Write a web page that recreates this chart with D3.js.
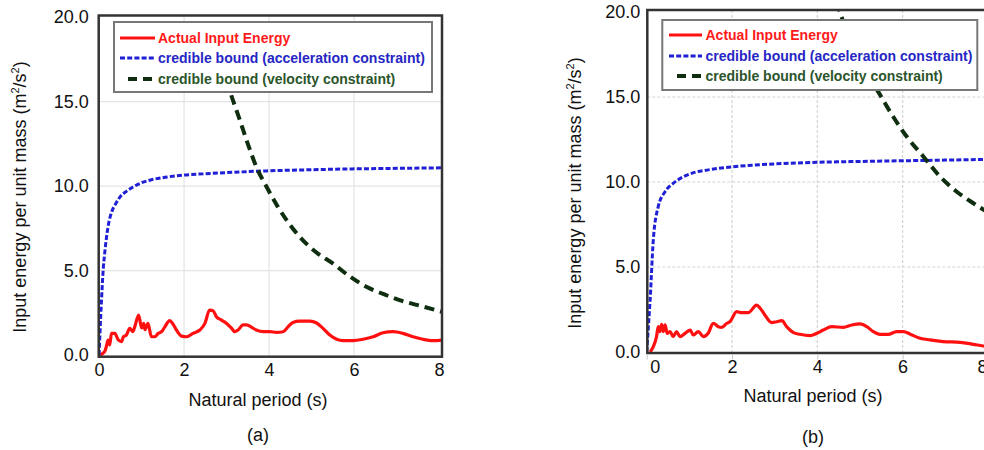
<!DOCTYPE html>
<html>
<head>
<meta charset="utf-8">
<script src="https://cdn.jsdelivr.net/npm/d3@7/dist/d3.min.js"></script>
<style>
  body { margin: 0; background: #fff; }
  svg { display: block; font-family: Arial, "Liberation Sans", sans-serif; }
</style>
</head>
<body>
<div id="chart"></div>
<script>
// shared labels and ticks
const xTicks = [0, 2, 4, 6, 8];
const yTicks = [0, 5, 10, 15, 20];
const legendLabels = ['Actual Input Energy', 'credible bound (acceleration constraint)', 'credible bound (velocity constraint)'];
const xTitle = 'Natural period (s)';
const panelLabels = ['(a)', '(b)'];

// panel (a)
const aActualT = [0.02, 0.13, 0.17, 0.21, 0.25, 0.29, 0.37, 0.45, 0.53, 0.57, 0.64, 0.72, 0.79, 0.84, 0.93, 1.0, 1.05, 1.08, 1.15, 1.23, 1.31, 1.39, 1.47, 1.55, 1.66, 1.73, 1.82, 1.94, 2.06, 2.21, 2.37, 2.49, 2.6, 2.68, 2.76, 2.88, 3.0, 3.12, 3.19, 3.27, 3.39, 3.47, 3.59, 3.7, 3.86, 4.02, 4.17, 4.33, 4.45, 4.56, 4.72, 4.96, 5.11, 5.27, 5.43, 5.59, 5.74, 5.98, 6.21, 6.45, 6.68, 6.92, 7.15, 7.39, 7.62, 7.86, 8.07];
const aActualE = [0, 0.2, 0.5, 0.89, 0.6, 1.28, 1.28, 0.89, 0.79, 1.08, 1.18, 1.58, 1.38, 1.68, 2.37, 1.6, 1.87, 1.5, 1.87, 1.08, 1.08, 1.28, 1.38, 1.68, 2.03, 1.87, 1.48, 1.12, 1.08, 1.28, 1.48, 1.87, 2.66, 2.62, 2.27, 2.07, 1.87, 1.58, 1.38, 1.48, 1.78, 1.78, 1.64, 1.48, 1.38, 1.38, 1.34, 1.38, 1.68, 1.93, 2.01, 2.01, 1.91, 1.58, 1.18, 0.93, 0.85, 0.85, 0.93, 1.08, 1.32, 1.38, 1.28, 1.08, 0.93, 0.85, 0.88];
const aAccelT = [0, 0.02, 0.056, 0.1, 0.13, 0.21, 0.3, 0.4, 0.49, 0.65, 0.8, 1.0, 1.19, 1.5, 1.98, 2.5, 3.0, 3.94, 5.0, 6.0, 7.0, 8.07];
const aAccelE = [0, 1.3, 3.25, 5.2, 6.0, 7.6, 8.5, 9.0, 9.35, 9.7, 9.95, 10.2, 10.35, 10.5, 10.65, 10.73, 10.8, 10.9, 10.97, 11.02, 11.05, 11.08];
const aVelT = [3.0, 3.07, 3.3, 3.5, 3.7, 3.94, 4.2, 4.45, 4.72, 5.1, 5.5, 5.9, 6.29, 6.7, 7.07, 7.5, 8.07];
const aVelE = [16.3, 15.7, 14.0, 12.5, 11.14, 9.96, 8.8, 7.85, 7.0, 6.1, 5.42, 4.65, 4.04, 3.6, 3.25, 2.95, 2.56];

// panel (b)
const bActualT = [0.08, 0.155, 0.23, 0.27, 0.31, 0.35, 0.39, 0.43, 0.48, 0.55, 0.62, 0.7, 0.78, 0.9, 1.02, 1.09, 1.21, 1.33, 1.44, 1.56, 1.68, 1.76, 1.88, 1.95, 2.11, 2.23, 2.38, 2.58, 2.66, 2.77, 2.93, 3.05, 3.17, 3.28, 3.44, 3.59, 3.83, 3.99, 4.14, 4.34, 4.61, 4.81, 5.0, 5.16, 5.31, 5.47, 5.66, 5.86, 6.02, 6.17, 6.37, 6.64, 6.95, 7.35, 7.66, 7.89, 8.07];
const bActualE = [0, 0.31, 0.9, 1.49, 1.2, 1.63, 1.2, 1.59, 1.1, 1.2, 0.9, 1.2, 0.9, 1.1, 1.29, 1.0, 1.2, 0.9, 1.1, 1.69, 1.49, 1.45, 1.69, 1.78, 2.37, 2.31, 2.31, 2.76, 2.57, 2.18, 1.73, 1.78, 1.84, 1.49, 1.14, 1.04, 0.96, 1.1, 1.29, 1.49, 1.45, 1.59, 1.65, 1.49, 1.2, 1.04, 1.04, 1.2, 1.2, 1.06, 0.84, 0.71, 0.61, 0.57, 0.45, 0.35, 0.3];
const bAccelT = [0, 0.04, 0.08, 0.155, 0.27, 0.43, 0.62, 0.86, 1.1, 1.41, 2.03, 2.97, 3.99, 5.0, 6.02, 7.0, 7.91, 8.07];
const bAccelE = [0, 1.5, 3.06, 6.6, 8.55, 9.43, 9.92, 10.31, 10.55, 10.7, 10.9, 11.06, 11.16, 11.21, 11.25, 11.29, 11.33, 11.34];
const bVelT = [4.45, 4.57, 4.8, 5.1, 5.43, 5.78, 6.1, 6.49, 6.88, 7.27, 7.66, 7.91, 8.07];
const bVelE = [20.6, 19.7, 18.1, 16.6, 15.3, 13.84, 12.66, 11.49, 10.31, 9.43, 8.75, 8.35, 8.1];

const colors = {
    actual: '#ff1010',
    accel: '#1f1fd6',
    vel: '#0f2e0f',
    actualText: '#ff1a1a',
    accelText: '#2626c4',
    velText: '#2b552b'
};

const width = 984, height = 450;

const svg = d3.select('#chart').append('svg')
    .attr('width', width)
    .attr('height', height);

const panels = [
    {
        id: 'a',
        left: 98.7, right: 442, top: 15.5, bottom: 356.7,
        xDomain: [-0.01, 8.07], yDomain: [-0.1, 20.1],
        series: [
            {t: aActualT, e: aActualE, key: 'actual'},
            {t: aAccelT, e: aAccelE, key: 'accel'},
            {t: aVelT, e: aVelE, key: 'vel'}
        ],
        gridDash: null,
        legend: {x: 114, y: 22, w: 318, h: 70, rows: [16, 36, 57], lx0: 120, lx1: 155, gx0: 128, gx1: 152, tx: 158},
        yLabelGap: 10,
        yTitle: [20, 197],
        xTitle: [258, 406],
        label: [258, 441],
        tickShift: {0: 0, 8: 0},
        minorTicks: false
    },
    {
        id: 'b',
        left: 647.3, right: 990.9, top: 10, bottom: 353,
        xDomain: [0.014, 8.07], yDomain: [-0.06, 20.12],
        series: [
            {t: bActualT, e: bActualE, key: 'actual'},
            {t: bAccelT, e: bAccelE, key: 'accel'},
            {t: bVelT, e: bVelE, key: 'vel'}
        ],
        gridDash: '3,2',
        legend: {x: 662.3, y: 20, w: 315, h: 70, rows: [15, 36, 56], lx0: 669, lx1: 702, gx0: 677, gx1: 702, tx: 705.5},
        yLabelGap: 7,
        yTitle: [575, 193],
        xTitle: [813, 402],
        label: [813, 443],
        tickShift: {0: 8, 8: -6},
        minorTicks: true
    }
];

const lineStyles = {
    actual: {width: 3.2, dash: null},
    accel: {width: 3, dash: '5,2.2'},
    vel: {width: 4, dash: '10,6'}
};

panels.forEach((p, pi) => {
    const x = d3.scaleLinear().domain(p.xDomain).range([p.left, p.right]);
    const y = d3.scaleLinear().domain(p.yDomain).range([p.bottom, p.top]);

    const g = svg.append('g').attr('class', 'panel-' + p.id);

    g.append('clipPath')
        .attr('id', 'clip-' + p.id)
        .append('rect')
        .attr('x', p.left).attr('y', p.top)
        .attr('width', p.right - p.left).attr('height', p.bottom - p.top);

    //grid
    g.selectAll('.vgrid')
        .data(xTicks.filter(d => d > 0 && d < 8))
        .join('line')
        .attr('x1', d => x(d)).attr('x2', d => x(d))
        .attr('y1', p.top).attr('y2', p.bottom)
        .attr('stroke', p.gridDash ? '#d4d4d4' : '#e4e4e4')
        .attr('stroke-width', 1.2)
        .attr('stroke-dasharray', p.gridDash);

    g.selectAll('.hgrid')
        .data(yTicks.filter(d => d > 0 && d < 20))
        .join('line')
        .attr('x1', p.left).attr('x2', p.right)
        .attr('y1', d => y(d)).attr('y2', d => y(d))
        .attr('stroke', p.gridDash ? '#d4d4d4' : '#e4e4e4')
        .attr('stroke-width', 1.2)
        .attr('stroke-dasharray', p.gridDash);

    //curves
    const plot = g.append('g').attr('clip-path', `url(#clip-${p.id})`);
    const line = d3.line()
        .x(d => x(d[0]))
        .y(d => y(d[1]))
        .curve(d3.curveMonotoneX);

    p.series.forEach(s => {
        const pts = s.t.map((t, i) => [t, s.e[i]]);
        plot.append('path')
            .datum(pts)
            .attr('fill', 'none')
            .attr('stroke', colors[s.key])
            .attr('stroke-width', lineStyles[s.key].width)
            .attr('stroke-dasharray', lineStyles[s.key].dash)
            .attr('stroke-linejoin', 'round')
            .attr('d', line);
    });

    //frame
    g.append('rect')
        .attr('x', p.left).attr('y', p.top)
        .attr('width', p.right - p.left).attr('height', p.bottom - p.top)
        .attr('fill', 'none')
        .attr('stroke', '#333')
        .attr('stroke-width', 2.5);

    //axes
    const xAxis = g.append('g')
        .attr('transform', `translate(0, ${p.bottom})`)
        .call(d3.axisBottom(x).tickValues(xTicks).tickSize(p.minorTicks ? 5 : 0).tickPadding(p.minorTicks ? 2 : 7).tickFormat(d3.format('d')));
    xAxis.select('.domain').remove();
    xAxis.selectAll('line').attr('stroke', '#c8c8c8').attr('transform', 'translate(0, 1.5)');
    xAxis.selectAll('text')
        .attr('font-size', 18)
        .attr('fill', '#111')
        .attr('font-family', 'Arial, "Liberation Sans", sans-serif')
        .attr('dx', d => p.tickShift[d] || 0);

    const yAxis = g.append('g')
        .attr('transform', `translate(${p.left}, 0)`)
        .call(d3.axisLeft(y).tickValues(yTicks).tickSize(0).tickPadding(p.yLabelGap).tickFormat(d3.format('.1f')));
    yAxis.select('.domain').remove();
    yAxis.selectAll('text')
        .attr('font-size', 18)
        .attr('fill', '#111')
        .attr('font-family', 'Arial, "Liberation Sans", sans-serif');

    //titles
    g.append('text')
        .attr('x', p.xTitle[0]).attr('y', p.xTitle[1])
        .attr('text-anchor', 'middle')
        .attr('font-size', 18)
        .attr('fill', '#111')
        .text(xTitle);

    const yt = g.append('text')
        .attr('transform', `translate(${p.yTitle[0]}, ${p.yTitle[1]}) rotate(-90)`)
        .attr('text-anchor', 'middle')
        .attr('dy', '0.35em')
        .attr('font-size', 18)
        .attr('fill', '#111');
    yt.append('tspan').text('Input energy per unit mass (m');
    yt.append('tspan').attr('font-size', 11).attr('dy', -7).text('2');
    yt.append('tspan').attr('dy', 7).text('/s');
    yt.append('tspan').attr('font-size', 11).attr('dy', -7).text('2');
    yt.append('tspan').attr('dy', 7).text(')');

    g.append('text')
        .attr('x', p.label[0]).attr('y', p.label[1])
        .attr('text-anchor', 'middle')
        .attr('font-size', 18)
        .attr('fill', '#111')
        .text(panelLabels[pi]);

    //legend
    const lg = p.legend;
    g.append('rect')
        .attr('x', lg.x).attr('y', lg.y)
        .attr('width', lg.w).attr('height', lg.h)
        .attr('fill', '#fff')
        .attr('stroke', '#777')
        .attr('stroke-width', 2);

    const keys = ['actual', 'accel', 'vel'];
    const textColors = [colors.actualText, colors.accelText, colors.velText];
    const items = g.selectAll('.legend-item')
        .data(legendLabels)
        .join('g')
        .attr('class', 'legend-item')
        .attr('transform', (d, i) => `translate(0, ${lg.y + lg.rows[i]})`);

    items.append('line')
        .attr('x1', (d, i) => i === 2 ? lg.gx0 : lg.lx0)
        .attr('x2', (d, i) => i === 2 ? lg.gx1 : lg.lx1)
        .attr('stroke', (d, i) => colors[keys[i]])
        .attr('stroke-width', (d, i) => lineStyles[keys[i]].width)
        .attr('stroke-dasharray', (d, i) => i === 2 ? '9,6' : lineStyles[keys[i]].dash);

    items.append('text')
        .attr('x', lg.tx)
        .attr('dy', '0.36em')
        .attr('font-size', 14)
        .attr('font-weight', 'bold')
        .attr('fill', (d, i) => textColors[i])
        .text(d => d);
});
</script>
</body>
</html>
